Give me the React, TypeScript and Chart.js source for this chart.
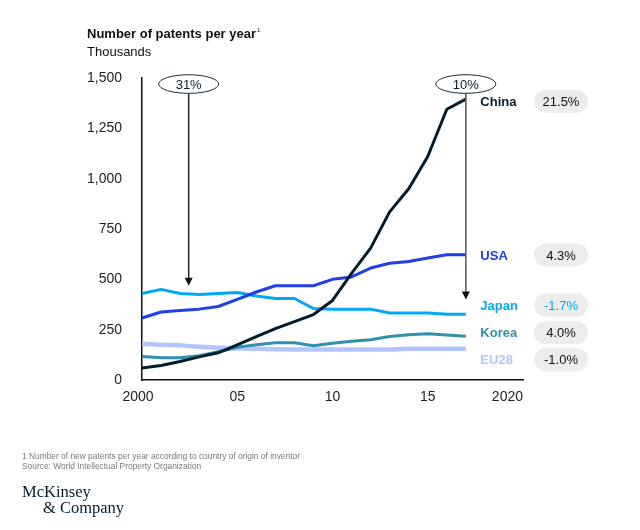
import React, { useEffect, useRef } from "react";
import { Chart, registerables } from "chart.js";

Chart.register(...registerables);

// ---------- data ----------
const years = [2000, 2001, 2002, 2003, 2004, 2005, 2006, 2007, 2008, 2009, 2010, 2011, 2012, 2013, 2014, 2015, 2016, 2017];
const china = [60, 72, 92, 115, 135, 175, 215, 255, 290, 325, 395, 530, 655, 835, 950, 1110, 1345, 1395];
const usa = [308, 338, 345, 352, 365, 400, 437, 468, 468, 468, 500, 512, 556, 580, 589, 606, 622, 622];
const japan = [430, 450, 430, 425, 430, 435, 417, 405, 405, 355, 352, 352, 352, 333, 333, 333, 326, 326];
const korea = [117, 110, 110, 120, 140, 163, 175, 185, 185, 170, 183, 192, 200, 216, 225, 230, 224, 217];
const eu28 = [180, 175, 172, 165, 160, 157, 155, 153, 152, 152, 152, 152, 152, 152, 155, 155, 155, 155];

const seriesNames = ["China", "USA", "Japan", "Korea", "EU28"];
const growthRates = ["21.5%", "4.3%", "-1.7%", "4.0%", "-1.0%"];

const xTickValues = [2000, 2005, 2010, 2015, 2020];
const xTickLabels = ["2000", "05", "10", "15", "2020"];

const calloutTexts = ["31%", "10%"];
const calloutYears = [2002.45, 2017];
const calloutTipValues = [468, 400];

const titleText = "Number of patents per year";
const unitText = "Thousands";
const footnote1 = "1 Number of new patents per year according to country of origin of inventor";
const footnote2 = "Source: World Intellectual Property Organization";

// ---------- styles ----------
const COLORS = ["#051c2c", "#1f40e6", "#00a9f4", "#3190ab", "#b3c6fb"];
const WIDTHS = [3, 3, 3, 3, 4.5];
const FONT = "'Liberation Sans', Arial, Helvetica, sans-serif";
const SERIF = "'Liberation Serif', 'Times New Roman', serif";

const seriesValues = [china, usa, japan, korea, eu28];

export default function App() {
  const ref = useRef<HTMLCanvasElement | null>(null);

  useEffect(() => {
    const canvas = ref.current;
    if (!canvas) return;

    const overlay = {
      id: "overlay",
      afterDraw(chart: any) {
        const ctx = chart.ctx as CanvasRenderingContext2D;
        const xs = chart.scales.x;
        const ys = chart.scales.y;
        const area = chart.chartArea;
        ctx.save();

        // x tick labels
        ctx.font = `14px ${FONT}`;
        ctx.fillStyle = "#222";
        ctx.textBaseline = "middle";
        xTickValues.forEach((v, i) => {
          const px = xs.getPixelForValue(v);
          if (i === xTickValues.length - 1) {
            ctx.textAlign = "right";
            ctx.fillText(xTickLabels[i], px, 397);
          } else if (i === 0) {
            ctx.textAlign = "center";
            ctx.fillText(xTickLabels[i], px - 4, 397);
          } else {
            ctx.textAlign = "center";
            ctx.fillText(xTickLabels[i], px, 397);
          }
        });

        // callouts
        calloutTexts.forEach((t, i) => {
          const cx = xs.getPixelForValue(calloutYears[i]);
          const cy = ys.getPixelForValue(1470);
          const tipY = ys.getPixelForValue(calloutTipValues[i]);
          const rx = 30, ry = 9.3;
          ctx.strokeStyle = i === 0 ? "#222" : "#555";
          ctx.lineWidth = 1.5;
          ctx.beginPath();
          ctx.moveTo(cx, cy + ry);
          ctx.lineTo(cx, tipY - 6);
          ctx.stroke();
          ctx.fillStyle = "#111";
          ctx.beginPath();
          ctx.moveTo(cx - 4, tipY - 8);
          ctx.lineTo(cx + 4, tipY - 8);
          ctx.lineTo(cx, tipY);
          ctx.closePath();
          ctx.fill();
          ctx.beginPath();
          ctx.ellipse(cx, cy, rx, ry, 0, 0, Math.PI * 2);
          ctx.fillStyle = "#fff";
          ctx.fill();
          ctx.strokeStyle = "#1b2b3b";
          ctx.lineWidth = 1;
          ctx.stroke();
          ctx.fillStyle = "#051c2c";
          ctx.font = `13px ${FONT}`;
          ctx.textAlign = "center";
          ctx.textBaseline = "middle";
          ctx.fillText(t, cx, cy + 1);
        });

        // right labels and growth pills
        const labelAnchors = [1385, 621, 372, 235, 101];
        const nameX = xs.getPixelForValue(2017) + 14.5;
        const pillCx = area.right + 38;
        seriesNames.forEach((name, i) => {
          const py = ys.getPixelForValue(labelAnchors[i]);
          ctx.font = `bold 13px ${FONT}`;
          ctx.fillStyle = COLORS[i];
          ctx.textAlign = "left";
          ctx.textBaseline = "middle";
          ctx.fillText(name, nameX, py + 1);
          const w = 54, h = 23;
          ctx.fillStyle = "#ececec";
          ctx.beginPath();
          ctx.roundRect(pillCx - w / 2, py - h / 2, w, h, h / 2);
          ctx.fill();
          ctx.font = `13px ${FONT}`;
          ctx.fillStyle = i === 2 ? COLORS[2] : "#111";
          ctx.textAlign = "center";
          ctx.fillText(growthRates[i], pillCx, py + 1);
        });

        // title
        ctx.textAlign = "left";
        ctx.textBaseline = "alphabetic";
        ctx.fillStyle = "#111";
        ctx.font = `bold 13px ${FONT}`;
        ctx.fillText(titleText, 87, 38);
        const tw = ctx.measureText(titleText).width;
        ctx.font = `6px ${FONT}`;
        ctx.fillText("1", 87 + tw + 1, 32);
        ctx.font = `13px ${FONT}`;
        ctx.fillText(unitText, 87, 56);

        // footnotes
        ctx.font = `8.4px ${FONT}`;
        ctx.fillStyle = "#7a7a7a";
        ctx.fillText(footnote1, 22, 459);
        ctx.fillText(footnote2, 22, 468.5);

        // logo
        ctx.fillStyle = "#051c2c";
        ctx.font = `16.5px ${SERIF}`;
        ctx.fillText("McKinsey", 22, 496.5);
        ctx.fillText("& Company", 43, 512.5);

        ctx.restore();
      },
    };

    const chart = new Chart(canvas, {
      type: "line",
      data: {
        datasets: seriesNames.map((name, i) => ({
          label: name,
          data: years.map((yr, j) => ({ x: yr, y: seriesValues[i][j] })),
          borderColor: COLORS[i],
          backgroundColor: COLORS[i],
          borderWidth: WIDTHS[i],
          pointRadius: 0,
          tension: 0,
          fill: false,
          borderJoinStyle: "round" as const,
          borderCapStyle: "butt" as const,
          clip: false as any,
        })),
      },
      options: {
        responsive: false,
        animation: false,
        devicePixelRatio: 1,
        layout: { padding: { left: 0, top: 78, right: 117, bottom: 150 } },
        plugins: {
          legend: { display: false },
          tooltip: { enabled: false },
          title: { display: false },
        },
        scales: {
          x: {
            type: "linear",
            min: 2000,
            max: 2020,
            grid: { display: false, drawTicks: false },
            border: { display: true, color: "#111", width: 1.5 },
            ticks: { display: false },
            afterFit: (s: any) => {
              s.height = 0;
            },
          },
          y: {
            min: 0,
            max: 1500,
            grid: { display: false, drawTicks: false },
            border: { display: true, color: "#111", width: 1.5 },
            ticks: {
              stepSize: 250,
              padding: 20,
              color: "#222",
              font: { family: FONT, size: 14 },
              callback: (v: any) => Number(v).toLocaleString("en-US"),
            },
            afterFit: (s: any) => {
              s.width = 142;
            },
          },
        },
      },
      plugins: [overlay],
    });

    return () => chart.destroy();
  }, []);

  return (
    <div style={{ position: "fixed", left: 0, top: 0, width: 640, height: 530, background: "#fff" }}>
      <canvas ref={ref} width={640} height={530} style={{ width: 640, height: 530, display: "block" }} />
    </div>
  );
}
